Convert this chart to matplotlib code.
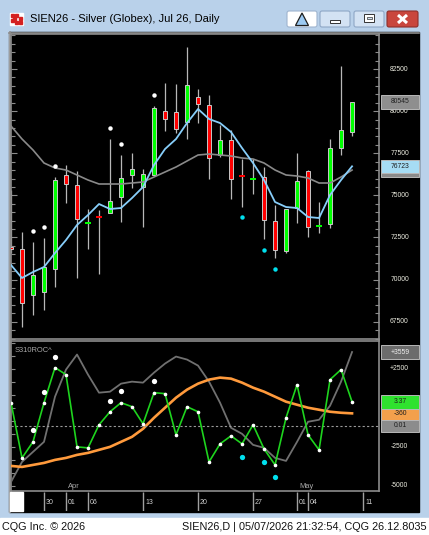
import numpy as np
import matplotlib
matplotlib.use("Agg")
import matplotlib.pyplot as plt
from matplotlib.patches import Rectangle, Polygon, FancyBboxPatch
from matplotlib.ticker import MultipleLocator
import matplotlib.transforms as mtrans
from matplotlib.colors import LinearSegmentedColormap

# ---------------- data ----------------
dates = ["03-25", "03-26", "03-27", "03-30", "03-31", "04-01", "04-02", "04-06",
         "04-07", "04-08", "04-09", "04-10", "04-13", "04-14", "04-15", "04-16",
         "04-17", "04-20", "04-21", "04-22", "04-23", "04-24", "04-27", "04-28",
         "04-29", "04-30", "05-01", "05-04", "05-05", "05-06", "05-07", "05-08"]
open_ = [71934, 71815, 69085, 69263, 70628, 76208, 75614, 73330, 73760, 73952, 74902,
         76208, 75496, 76208, 80007, 79948, 79354, 80838, 80363, 77395, 78285, 76150,
         75940, 76089, 73477, 71697, 74249, 76445, 73160, 73299, 77810, 78760]
high = [75317, 72824, 72231, 72468, 76089, 76801, 76445, 74190, 74130, 78345, 77395,
        77514, 76564, 80304, 81669, 81610, 83806, 81313, 80957, 79176, 78879, 77158,
        77158, 76683, 74427, 74190, 77514, 76505, 74605, 78345, 82678, 80545]
low = [71578, 67185, 67897, 68194, 69560, 74546, 70094, 71815, 70331, 73952, 73418,
       75436, 73121, 76208, 78820, 78701, 78345, 79295, 75970, 77276, 74783, 74308,
       75080, 72409, 71281, 71578, 73358, 72527, 72765, 73062, 77395, 78523]
close = [71815, 68610, 70272, 70747, 75911, 75674, 73596, 73360, 73720, 74665, 76030,
         76564, 76267, 80185, 79532, 78938, 81550, 80422, 77217, 78285, 75970, 76090,
         75990, 73537, 71756, 74190, 75852, 73121, 73200, 77810, 78879, 80545]
ma_fast = [70866, 70094, 70450, 70747, 71578, 72349, 73240, 73833, 74486, 74190, 74249,
           74843, 75496, 76801, 77751, 78345, 79294, 80126, 79532, 79294, 78760, 77810,
           76920, 75911, 74605, 74308, 74249, 73715, 73655, 75021, 75911, 76723]
ma_slow = [79116, 78345, 77692, 76920, 76623, 76504, 76208, 75911, 75674, 75674, 75674,
           75733, 75792, 76089, 76386, 76683, 77039, 77395, 77454, 77395, 77336, 77217,
           77158, 76920, 76504, 76208, 76148, 76030, 75733, 75733, 76089, 76504]
sig_up_idx = [2, 3, 4, 9, 10, 13]
sig_up_price = [72884, 73121, 76742, 78998, 78048, 80957]
sig_dn_idx = [21, 23, 24]
sig_dn_price = [73715, 71756, 70628]

osc_gray = [-4743, -3461, -2820, -2179, 705, 2436, 3397, 2115, 962, 1026, 1538, 1667,
            1603, 2244, 2820, 3269, 3077, 2692, 1667, 321, -1282, -1667, -2372, -2564,
            -3205, -3397, -2179, -897, -769, 128, 1667, 3559]
osc_orange = [-3718, -3782, -3654, -3526, -3333, -3205, -3013, -2885, -2692, -2500,
              -2179, -1859, -1346, -641, 0, 641, 1154, 1538, 1795, 1923, 1859, 1603,
              1282, 1026, 705, 385, 192, 0, -128, -256, -321, -360]
roc = [3.24, -4.51, -2.25, 3.24, 8.17, 7.18, -2.96, -3.10, 0.14, 1.97, 3.24, 2.68,
       0.28, 4.65, 4.51, -1.27, 2.68, 1.97, -5.07, -2.54, -1.41, -2.54, 0.14, -3.24,
       -5.49, 1.13, 5.77, -1.27, -3.38, 6.48, 7.89, 3.37]
roc_up_val = [-0.56, 4.79, 9.72, 3.52, 4.93, 6.34]
roc_dn_val = [-4.37, -5.07, -7.18]

date_tick_idx = [3, 5, 7, 12, 17, 22, 26, 27, 32]
date_tick_lbl = ["30", "01", "06", "13", "20", "27", "01", "04", "11"]
month_idx = [5, 26]
month_lbl = ["Apr", "May"]
price_labels = [67500, 70000, 72500, 75000, 77500, 80000, 82500]
osc_labels = [(2500, "+2500"), (-2500, "-2500"), (-5000, "-5000")]

# ---------------- figure ----------------
W, H = 429, 535
fig = plt.figure(figsize=(W / 100, H / 100), dpi=100)
FONT = "Liberation Sans"


def frect(x0, y0, x1, y1):
    return [x0 / W, 1 - y1 / H, (x1 - x0) / W, (y1 - y0) / H]


chrome = fig.add_axes([0, 0, 1, 1], zorder=-5)
chrome.axis("off")
chrome.add_patch(Rectangle((0, 0), W, H, color="#b9d1ea"))
cm = LinearSegmentedColormap.from_list("tb", ["#dfeaf7", "#bed4ec"])
chrome.imshow(np.linspace(0, 1, 32)[:, None], cmap=cm, extent=(0, W, 31, 0), aspect="auto")
chrome.add_patch(Rectangle((9, 32), 410, 480, color="black"))
chrome.plot([8.5, 8.5], [32, 512], color="#eef3fa", lw=1)
chrome.plot([9.8, 9.8], [32, 512], color="#8c8c8c", lw=1.2)
chrome.plot([9, 419], [32.8, 32.8], color="#8c8c8c", lw=1.2)
chrome.add_patch(Rectangle((0, 518), W, 17, color="white"))
# icon
chrome.add_patch(Rectangle((10, 13), 13, 12, color="white"))
for (ix, iy) in [(11, 14), (15, 14), (19, 17), (11, 19), (15, 21), (19, 21), (13, 17)]:
    chrome.add_patch(Rectangle((ix, iy), 2.6, 2.6, color="#d42020"))
chrome.text(30, 19.5, "SIEN26 - Silver (Globex), Jul 26, Daily", fontsize=8,
            family=FONT, va="center", ha="left", color="black")
# buttons
chrome.add_patch(FancyBboxPatch((287, 11), 30, 16, boxstyle="round,pad=0,rounding_size=2",
                                fc="white", ec="#9fb4cf", lw=0.8))
chrome.add_patch(Polygon([(295.5, 25.5), (308.5, 25.5), (302, 13)], closed=True,
                         fc="#9ccaf2", ec="#1e1e1e", lw=0.9))
for bx in (320, 354):
    chrome.add_patch(FancyBboxPatch((bx, 11), 30, 16, boxstyle="round,pad=0,rounding_size=2",
                                    fc="#d3e2f3", ec="#8fa7c6", lw=0.8))
chrome.add_patch(Rectangle((330, 20), 10, 3, fc="white", ec="#333333", lw=0.7))
chrome.add_patch(Rectangle((364, 14), 10, 7.5, fc="white", ec="#333333", lw=0.7))
chrome.add_patch(Rectangle((366.5, 16.5), 5, 2.5, fc="#d3e2f3", ec="#333333", lw=0.5))
chrome.add_patch(FancyBboxPatch((387, 11), 31, 16, boxstyle="round,pad=0,rounding_size=2",
                                fc="#c9463d", ec="#8e2f2a", lw=0.8))
chrome.plot([398, 407], [15, 23], color="white", lw=2.2, solid_capstyle="butt")
chrome.plot([398, 407], [23, 15], color="white", lw=2.2, solid_capstyle="butt")
chrome.text(2, 526.5, "CQG Inc. \u00a9 2026", fontsize=7.8, family=FONT, va="center",
            ha="left", color="#111111")
chrome.text(427, 526.5, "SIEN26,D | 05/07/2026 21:32:54, CQG 26.12.8035", fontsize=7.8,
            family=FONT, va="center", ha="right", color="#111111")
chrome.set_xlim(0, W)
chrome.set_ylim(H, 0)

x = np.arange(len(dates))
XL = (0, 33.45)
SP = "#8c8c8c"

# ---------------- main price panel ----------------
ax = fig.add_axes(frect(11, 34, 379, 339))
ax.set_facecolor("black")
ax.set_xlim(*XL)
ax.set_ylim(66473, 84578)
for s in ax.spines.values():
    s.set_color(SP)
    s.set_linewidth(1.2)
ax.set_xticks([])
ax.yaxis.set_major_locator(MultipleLocator(2500))
ax.yaxis.set_minor_locator(MultipleLocator(500))
ax.tick_params(axis="y", which="both", direction="in", left=True, right=True,
               labelleft=False, labelright=False, color=SP, width=0.8)
ax.tick_params(axis="y", which="major", length=4)
ax.tick_params(axis="y", which="minor", length=3)

o = np.array(open_); c = np.array(close)
ax.vlines(x, low, high, color="#b8b8b8", lw=0.9, zorder=2)
for i in range(len(x)):
    up = c[i] >= o[i]
    col = "#00ff00" if up else "#ff0000"
    if abs(c[i] - o[i]) < 100:
        mid = (c[i] + o[i]) / 2
        ax.bar(x[i], 120, bottom=mid - 60, width=0.5, color=col, edgecolor="none", zorder=3)
    else:
        ax.bar(x[i], abs(c[i] - o[i]), bottom=min(c[i], o[i]), width=0.42, color=col,
               edgecolor="#c8c8c8", linewidth=0.7, zorder=3)
ax.plot(x, ma_slow, color="#8a8a8a", lw=1.2, zorder=4)
ax.plot(x, ma_fast, color="#87cefa", lw=1.3, zorder=5)
ax.plot(sig_up_idx, sig_up_price, "o", color="white", ms=3.2, mec="none", zorder=6)
ax.plot(sig_dn_idx, sig_dn_price, "o", color="#00e0ee", ms=3.2, mec="none", zorder=6)

# ---------------- oscillator panel ----------------
ax2 = fig.add_axes(frect(11, 340.5, 379, 491))
ax2.set_facecolor("black")
ax2.set_xlim(*XL)
ax2.set_ylim(-5320, 4295)
for s in ax2.spines.values():
    s.set_color(SP)
    s.set_linewidth(1.2)
ax2.set_xticks([])
ax2.yaxis.set_major_locator(MultipleLocator(2500))
ax2.yaxis.set_minor_locator(MultipleLocator(2500 / 3))
ax2.tick_params(axis="y", which="both", direction="in", left=True, right=True,
                labelleft=False, labelright=False, color=SP, width=0.8, length=3)
ax2.plot(x, osc_gray, color="#707070", lw=1.3, zorder=3)
ax2.plot(x, osc_orange, color="#ff9a3c", lw=1.9, zorder=4)
for i, lbl in zip(month_idx, month_lbl):
    ax2.text(i + 2 / 11, 0.03, lbl, transform=mtrans.blended_transform_factory(ax2.transData, ax2.transAxes),
             fontsize=5.4, family=FONT, color="#a8a8a8", ha="left", va="center")

ax3 = ax2.twinx()
ax3.set_ylim(-9.15, 11.97)
ax3.set_xlim(*XL)
ax3.patch.set_visible(False)
for s in ax3.spines.values():
    s.set_visible(False)
ax3.set_yticks([])
ax3.axhline(0, color="#9a9a9a", lw=0.8, ls=(0, (2, 2)), zorder=1)
ax3.plot(x, roc, color="#1ed41e", lw=1.2, zorder=5, marker="o", ms=1.6, mfc="white", mec="white")
ax3.plot(sig_up_idx, roc_up_val, "o", color="white", ms=3.8, mec="none", zorder=6)
ax3.plot(sig_dn_idx, roc_dn_val, "o", color="#00e0ee", ms=3.8, mec="none", zorder=6)

# ---------------- date band ----------------
ax4 = fig.add_axes(frect(11, 492, 379, 511))
ax4.set_facecolor("black")
ax4.set_xlim(*XL)
ax4.set_ylim(0, 1)
ax4.axis("off")
ax4.vlines(date_tick_idx, 0, 1, color="#a0a0a0", lw=1)
for i, lbl in zip(date_tick_idx, date_tick_lbl):
    ax4.text(i + 2 / 11, 0.45, lbl, fontsize=5, family=FONT, color="#d0d0d0",
             ha="left", va="center", clip_on=False)

# ---------------- overlay: right scale & value boxes ----------------
ov = fig.add_axes([0, 0, 1, 1], zorder=5)
ov.set_xlim(0, W)
ov.set_ylim(H, 0)
ov.axis("off")
ov.patch.set_visible(False)


def ypix(a, v):
    return H - a.transData.transform((0, v))[1]


for p in price_labels:
    ov.text(399.5, ypix(ax, p), str(p), fontsize=4.9, family=FONT, color="#ecece0",
            ha="center", va="center")
for v, lbl in osc_labels:
    ov.text(399, ypix(ax2, v), lbl, fontsize=4.9, family=FONT, color="#ecece0",
            ha="center", va="center")


def vbox(yc, txt, fc, tc, h=13.5):
    ov.add_patch(Rectangle((381, yc - h / 2), 38, h, fc=fc, ec="#b8b8b8", lw=0.7, zorder=3))
    ov.text(400, yc, txt, fontsize=4.9, family=FONT, color=tc, ha="center", va="center", zorder=4)


vbox(ypix(ax, ma_slow[-1]), "", "#8a8a8a", "#222222")
vbox(ypix(ax, close[-1]), f"{close[-1]}", "#8e8e8e", "#1e1e1e")
vbox(ypix(ax, ma_fast[-1]), f"{ma_fast[-1]}", "#a6dcf4", "#1e1e1e")
vbox(ypix(ax2, osc_gray[-1]), f"+{osc_gray[-1]}", "#6c6c6c", "#f0f0f0")
vbox(ypix(ax3, 0.01), "0.01", "#8c8c8c", "#1e1e1e")
vbox(ypix(ax2, osc_orange[-1]), f"{osc_orange[-1]}", "#f3a04c", "#1e1e1e")
vbox(ypix(ax3, roc[-1]), f"{roc[-1]:.2f}", "#2fe22f", "#1e1e1e")
ov.text(15, 351, "S310ROC^", fontsize=5.4, family=FONT, color="#a8a8a8", ha="left", va="center")
ov.add_patch(Rectangle((10, 492), 13, 19, color="white"))

fig.savefig("out.png", dpi=100)
